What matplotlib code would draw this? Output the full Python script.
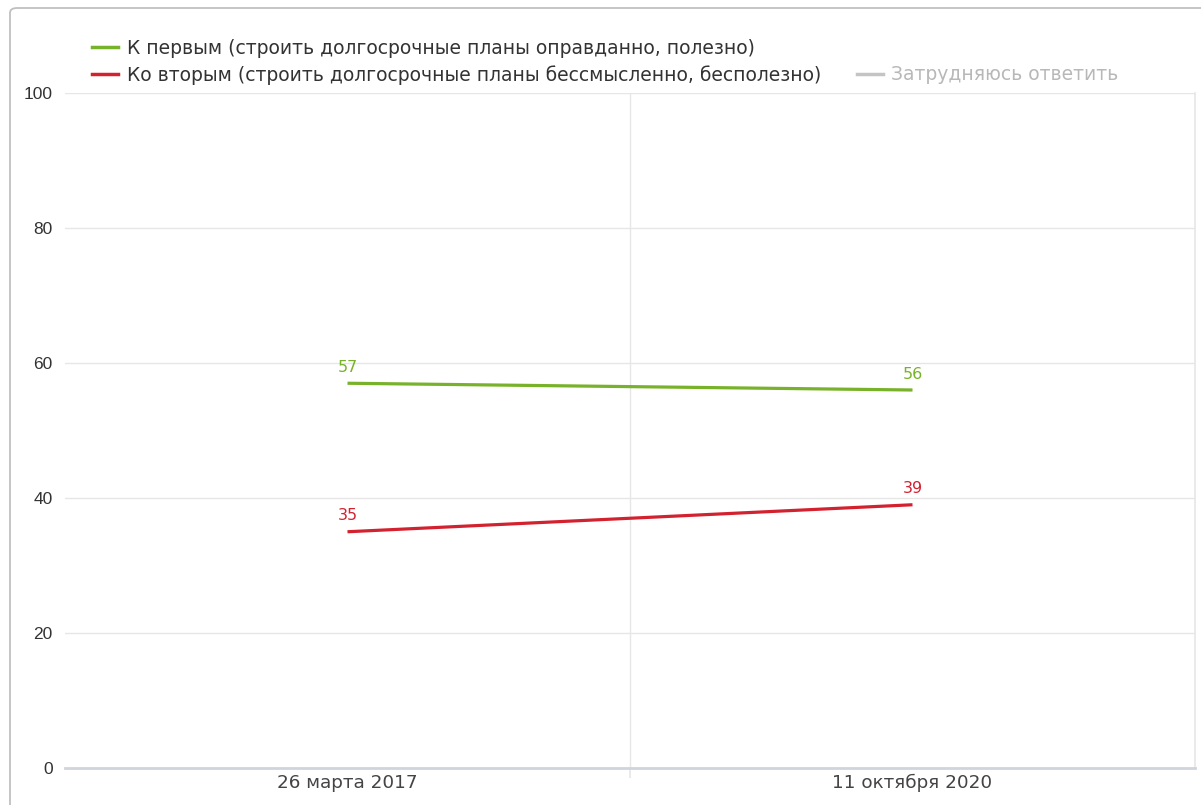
import matplotlib
matplotlib.use('Agg')
import matplotlib.pyplot as plt
from matplotlib.lines import Line2D
from matplotlib.patches import FancyBboxPatch

# data
dates = ['26 марта 2017', '11 октября 2020']
first = [57, 56]    # К первым
second = [35, 39]   # Ко вторым
lbl_first = 'К первым (строить долгосрочные планы оправданно, полезно)'
lbl_second = 'Ко вторым (строить долгосрочные планы бессмысленно, бесполезно)'
lbl_hard = 'Затрудняюсь ответить'

c_green = '#78b22a'
c_red = '#d3222f'
c_gray = '#c4c4c4'
c_grid = '#e6e6e6'

W, H = 1201, 805
fig = plt.figure(figsize=(W/100, H/100), dpi=100)
fig.set_facecolor('white')

# outer frame of the widget
frame = FancyBboxPatch((10/W, -0.05), 1.2, (805-8)/H + 0.05,
                       boxstyle='round,pad=0,rounding_size=0.006',
                       transform=fig.transFigure, fill=False,
                       edgecolor='#c0c0c0', linewidth=1.3)
fig.patches.append(frame)

ax = fig.add_axes([65/W, (H-768)/H, (1195-65)/W, (768-93)/H])
x = list(range(len(dates)))

ax.plot(x, first, color=c_green, linewidth=2.3, solid_capstyle='butt', zorder=3)
ax.plot(x, second, color=c_red, linewidth=2.3, solid_capstyle='butt', zorder=3)

for xi, v in zip(x, first):
    ax.annotate(str(v), (xi, v), xytext=(0, 6), textcoords='offset points',
                ha='center', va='bottom', color=c_green, fontsize=11.5,
                family='DejaVu Sans')
for xi, v in zip(x, second):
    ax.annotate(str(v), (xi, v), xytext=(0, 6), textcoords='offset points',
                ha='center', va='bottom', color=c_red, fontsize=11.5,
                family='DejaVu Sans')

ax.set_xlim(-0.5, len(dates) - 0.5)
ax.set_ylim(0, 100)
ax.set_yticks([0, 20, 40, 60, 80, 100])
ax.set_xticks(x)
ax.set_xticklabels(dates, family='DejaVu Sans', fontsize=13.2, color='#444444')
ax.set_xticks([0.5], minor=True)
ax.tick_params(axis='x', which='major', length=0, pad=4)
ax.tick_params(axis='x', which='minor', length=7, color=c_grid, width=1.2)
ax.tick_params(axis='y', length=0, pad=9, labelsize=12.5, labelcolor='#333333')
for t in ax.get_yticklabels():
    t.set_family('Liberation Sans')

ax.grid(True, axis='y', color=c_grid, linewidth=1)
ax.grid(True, axis='x', which='minor', color=c_grid, linewidth=1)
ax.set_axisbelow(True)

for s in ['top', 'left']:
    ax.spines[s].set_visible(False)
ax.spines['right'].set_color(c_grid)
ax.spines['right'].set_linewidth(1.2)
ax.spines['bottom'].set_color('#d0d4dc')
ax.spines['bottom'].set_linewidth(2)

h_g = Line2D([], [], color=c_green, linewidth=2.5)
h_r = Line2D([], [], color=c_red, linewidth=2.5)
h_blank = Line2D([], [], color='none')
h_gray = Line2D([], [], color=c_gray, linewidth=2.5)
leg = fig.legend(handles=[h_g, h_r, h_blank, h_gray],
                 labels=[lbl_first, lbl_second, '', lbl_hard],
                 ncol=2, loc='upper left', bbox_to_anchor=(92/W, 1 - 39/H),
                 frameon=False, prop={'family': 'DejaVu Sans', 'size': 13.5},
                 handlelength=1.4, handletextpad=0.45, columnspacing=1.9,
                 labelspacing=0.38, borderpad=0, borderaxespad=0)
for t, c in zip(leg.get_texts(), ['#333333', '#333333', '#333333', '#b8b8b8']):
    t.set_color(c)

fig.savefig('out.png', dpi=100, facecolor='white')
